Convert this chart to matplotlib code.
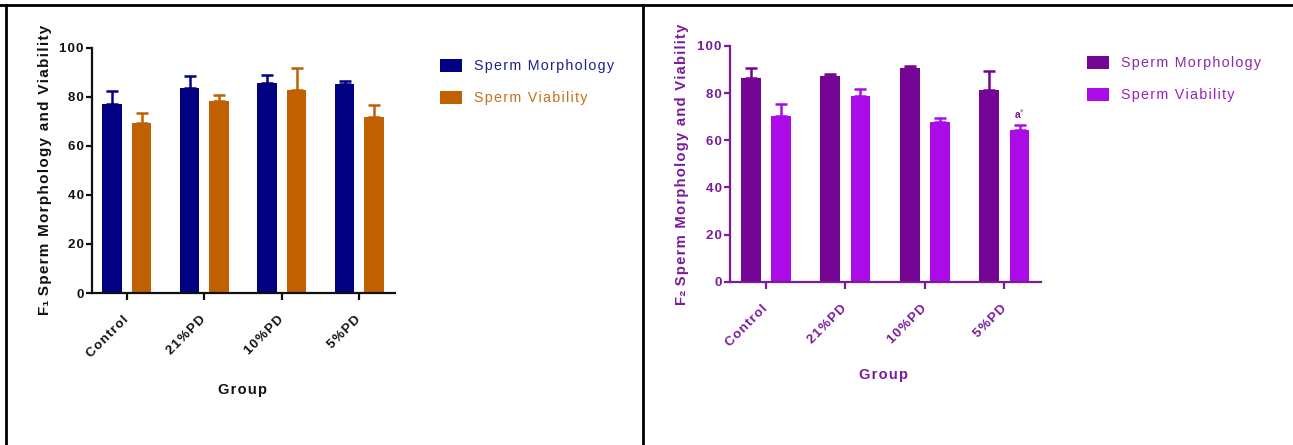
import matplotlib
matplotlib.use("Agg")
import matplotlib.pyplot as plt
import numpy as np
from matplotlib.lines import Line2D

plt.rcParams['font.family'] = ['Liberation Sans', 'DejaVu Sans']

groups = ["Control", "21%PD", "10%PD", "5%PD"]
series = ["Sperm Morphology", "Sperm Viability"]

# F1 generation
f1_morph = [77.2, 83.7, 85.8, 85.0]
f1_morph_err = [5.3, 4.6, 3.0, 1.3]
f1_viab = [69.1, 78.2, 82.8, 71.7]
f1_viab_err = [4.1, 2.4, 8.8, 5.1]

# F2 generation
f2_morph = [86.3, 87.4, 90.5, 81.3]
f2_morph_err = [4.2, 0.9, 0.9, 8.0]
f2_viab = [70.4, 78.9, 67.9, 64.4]
f2_viab_err = [5.0, 2.9, 1.5, 2.2]

yticks = [0, 20, 40, 60, 80, 100]

W, H = 1293, 445
fig = plt.figure(figsize=(W / 100, H / 100), dpi=100)


def sp(s, gap="\u200a"):
    """Letter-spaced version of a string."""
    return gap.join(s)


def panel(rect, morph, morph_err, viab, viab_err, colors, axis_color, text_colors,
          sub, ylab_x, ylab_size, group_xy, legend_xy):
    ax = fig.add_axes(rect)
    x = np.arange(len(groups))
    bw, off = 0.25, 0.19
    for vals, errs, c, dx, lab in [(morph, morph_err, colors[0], -off, series[0]),
                                   (viab, viab_err, colors[1], off, series[1])]:
        ax.bar(x + dx, vals, width=bw, color=c, label=sp(lab), zorder=2)
        ax.errorbar(x + dx, vals, yerr=[np.zeros(len(errs)), errs], fmt='none',
                    ecolor=c, elinewidth=1.8, capsize=4.0, capthick=1.8, zorder=3)
    ax.set_xlim(-0.45, 3.46)
    ax.set_ylim(0, 100)
    ax.set_yticks(yticks)
    ax.set_yticklabels([sp(str(t)) for t in yticks], fontsize=9.5, fontweight='bold',
                       color=axis_color)
    ax.set_xticks(x)
    ax.set_xticklabels([sp(g) for g in groups], rotation=45, ha='right',
                       va='center', rotation_mode='anchor', fontsize=9.5,
                       fontweight='bold', color=axis_color)
    for s in ['top', 'right']:
        ax.spines[s].set_visible(False)
    for s in ['left', 'bottom']:
        ax.spines[s].set_linewidth(1.6)
        ax.spines[s].set_color(axis_color)
    ax.tick_params(axis='y', length=4, width=1.6, color=axis_color, pad=2)
    ax.tick_params(axis='x', length=5, width=1.6, color=axis_color, pad=13)
    # axis titles
    cy = (rect[1] + rect[3] / 2)
    fig.text(ylab_x / W, cy, "F" + sub + " " + sp("Sperm Morphology and Viability"),
             rotation=90, ha='center', va='center', fontsize=ylab_size,
             fontweight='bold', color=axis_color)
    fig.text(group_xy[0] / W, 1 - group_xy[1] / H, sp("Group"), ha='center',
             va='center', fontsize=10.5, fontweight='bold', color=axis_color)
    ax.legend(loc='upper left', bbox_to_anchor=(legend_xy[0] / W, 1 - legend_xy[1] / H),
              bbox_transform=fig.transFigure, frameon=False, fontsize=10.3,
              handlelength=1.55, handleheight=1.0, handletextpad=0.85,
              labelspacing=1.25, borderpad=0, borderaxespad=0,
              labelcolor=text_colors)
    return ax


# Left panel: F1
panel([92 / W, 1 - 293 / H, 303 / W, (293 - 47.7) / H],
      f1_morph, f1_morph_err, f1_viab, f1_viab_err,
      colors=['#000080', '#C06000'], axis_color='#111111',
      text_colors=['#1E1E8C', '#C8701E'], sub="\u2081",
      ylab_x=45, ylab_size=11, group_xy=(242, 390), legend_xy=(440, 59))

# Right panel: F2
ax2 = panel([730 / W, 1 - 281.7 / H, 311 / W, (281.7 - 46) / H],
            f2_morph, f2_morph_err, f2_viab, f2_viab_err,
            colors=['#730494', '#AB0BE6'], axis_color='#7A1A9C',
            text_colors=['#8A2AAA', '#9A20C0'], sub="\u2082",
            ylab_x=682, ylab_size=10.6, group_xy=(884, 375), legend_xy=(1087, 56))

# significance mark on the 5%PD viability bar
ax2.annotate("a$^{*}$", xy=(3 + 0.19, f2_viab[3] + f2_viab_err[3]), xytext=(0, 3),
             textcoords='offset points', ha='center', va='bottom', fontsize=7.5,
             fontweight='bold', color='#7A1A9C')

# frame lines around the panels
lw = 2.0
fig.add_artist(Line2D([0, 1], [1 - 5 / H, 1 - 5 / H], color='black', lw=lw,
                      transform=fig.transFigure))
fig.add_artist(Line2D([6 / W, 6 / W], [0, 1 - 5 / H], color='black', lw=lw,
                      transform=fig.transFigure))
fig.add_artist(Line2D([643 / W, 643 / W], [0, 1 - 5 / H], color='black', lw=lw,
                      transform=fig.transFigure))

fig.savefig("out.png", dpi=100)
